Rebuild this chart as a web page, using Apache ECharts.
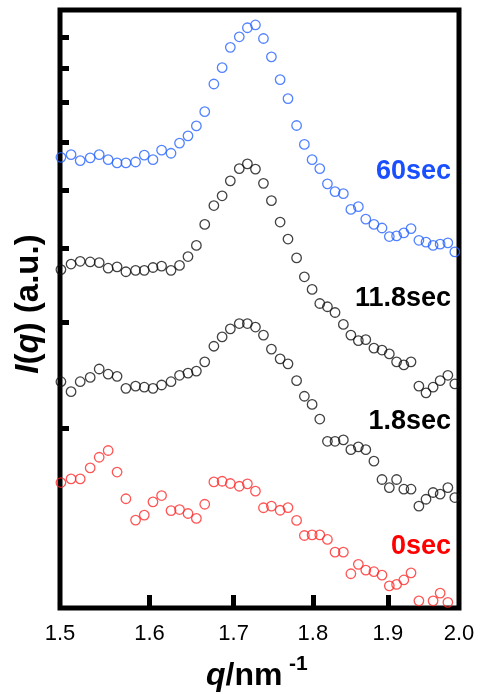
<!DOCTYPE html>
<html>
<head>
<meta charset="utf-8">
<script src="https://cdn.jsdelivr.net/npm/echarts@6/dist/echarts.min.js"></script>
<style>
html,body{margin:0;padding:0;background:#fff;}
#c{width:480px;height:694px;}
</style>
</head>
<body>
<div id="c"></div>
<script>
// q grid (nm^-1)
const q = [1.501,1.512,1.522,1.533,1.543,1.553,1.563,1.573,1.584,1.594,
  1.604,1.614,1.625,1.635,1.645,1.655,1.665,1.676,1.686,1.696,
  1.707,1.717,1.727,1.737,1.747,1.758,1.768,1.779,1.789,1.799,
  1.809,1.819,1.829,1.840,1.850,1.860,1.870,1.881,1.892,1.902,
  1.912,1.922,1.932,1.943,1.953,1.963,1.973,1.984,1.994];

// I(q), a.u.
const s60sec = [5.67,5.73,5.60,5.66,5.73,5.62,5.55,5.55,5.57,5.72,
  5.62,5.83,5.76,5.99,6.16,6.40,6.76,7.52,8.01,8.66,
  9.02,9.34,9.44,8.96,8.35,7.65,7.11,6.41,5.96,5.62,
  5.43,5.12,4.97,4.93,4.64,4.69,4.47,4.38,4.32,4.18,
  4.19,4.24,4.31,4.12,4.09,4.04,4.06,4.08,3.94];

const s11_8sec = [3.68,3.76,3.80,3.79,3.78,3.70,3.72,3.65,3.67,3.67,
  3.71,3.73,3.67,3.74,3.87,4.04,4.38,4.71,4.89,5.18,
  5.43,5.53,5.42,5.13,4.80,4.42,4.14,3.85,3.58,3.41,
  3.23,3.19,3.12,2.98,2.86,2.80,2.81,2.72,2.70,2.66,
  2.58,2.55,2.58,2.35,2.29,2.34,2.40,2.45,2.37];

const s1_8sec = [2.39,2.30,2.39,2.43,2.51,2.46,2.44,2.33,2.35,2.34,
  2.33,2.36,2.39,2.45,2.47,2.49,2.58,2.74,2.84,2.93,
  2.99,2.99,2.95,2.86,2.71,2.61,2.56,2.40,2.26,2.19,
  2.07,1.90,1.90,1.91,1.84,1.86,1.84,1.76,1.64,1.59,
  1.64,1.58,1.58,1.48,1.52,1.56,1.55,1.59,1.53];

const s0sec = [1.621,1.644,1.644,1.715,1.787,1.834,1.688,1.523,1.403,1.430,
  1.505,1.542,1.455,1.461,1.439,1.412,1.491,1.625,1.629,1.615,
  1.598,1.613,1.568,1.471,1.480,1.457,1.472,1.401,1.322,1.325,
  1.325,1.302,1.240,1.240,1.141,1.183,1.157,1.150,1.135,1.089,
  1.095,1.114,1.145,1.028,null,1.028,1.059,1.022,null];

const seriesNames = ['60sec','11.8sec','1.8sec','0sec'];
const xTickLabels = [1.5,1.6,1.7,1.8,1.9,2.0];
const xInnerTicks = [1.6,1.7,1.8,1.9];
const yTicks = [2,3,4,5,6,7,8,9];

function pairs(arr){
  const out = [];
  for (let i = 0; i < q.length; i++) if (arr[i] != null) out.push([q[i], arr[i]]);
  return out;
}

const ptColors = ['#2563ff','#111111','#111111','#ff2b2b'];
const lblColors = ['#1a4fff','#000000','#000000','#ff0000'];
const allData = [s60sec, s11_8sec, s1_8sec, s0sec];
const FONT = '"Liberation Sans", Arial, sans-serif';

const chart = echarts.init(document.getElementById('c'), null, {renderer:'canvas'});
chart.setOption({
  animation: false,
  backgroundColor: '#fff',
  grid: {left: 60, right: 21, top: 10, bottom: 86, show: true, borderColor: '#000', borderWidth: 5, backgroundColor: 'transparent'},
  xAxis: {
    type: 'log', logBase: 10, min: 1.5, max: 2.0,
    axisLine: {show: false},
    splitLine: {show: false},
    minorTick: {show: false},
    axisTick: {show: true, inside: true, length: 13, lineStyle: {color: '#000', width: 5}, customValues: xInnerTicks},
    axisLabel: {show: true, customValues: xTickLabels, formatter: v => Number(v).toFixed(1),
      fontSize: 22, color: '#000', margin: 15, fontFamily: FONT}
  },
  yAxis: {
    type: 'log', logBase: 10, min: 1, max: 10,
    axisLine: {show: false},
    splitLine: {show: false},
    minorTick: {show: false},
    axisTick: {show: true, inside: true, length: 9, lineStyle: {color: '#000', width: 5}, customValues: yTicks},
    axisLabel: {show: false}
  },
  series: allData.map((d, k) => ({
    name: seriesNames[k],
    type: 'scatter',
    symbol: 'circle',
    symbolSize: 9.5,
    data: pairs(d),
    itemStyle: {color: 'rgba(0,0,0,0)', borderColor: ptColors[k], borderWidth: 1.3}
  })),
  graphic: [
    {type:'text', x:451, y:172, style:{text:seriesNames[0], fill:lblColors[0], font:'bold 27px '+FONT, align:'right', verticalAlign:'middle'}},
    {type:'text', x:451, y:299, style:{text:seriesNames[1], fill:lblColors[1], font:'bold 27px '+FONT, align:'right', verticalAlign:'middle'}},
    {type:'text', x:451, y:422, style:{text:seriesNames[2], fill:lblColors[2], font:'bold 27px '+FONT, align:'right', verticalAlign:'middle'}},
    {type:'text', x:451, y:547, style:{text:seriesNames[3], fill:lblColors[3], font:'bold 27px '+FONT, align:'right', verticalAlign:'middle'}},
    {type:'text', x:206, y:676, style:{
      text:'{i|q}{n|/nm}', align:'left', verticalAlign:'middle', fill:'#000',
      rich:{i:{font:'italic bold 32px '+FONT, fill:'#000'}, n:{font:'bold 32px '+FONT, fill:'#000'}}}},
    {type:'text', x:289, y:664, style:{text:'-1', fill:'#000', font:'bold 21px '+FONT, align:'left', verticalAlign:'middle'}},
    {type:'text', x:29, y:304, rotation: Math.PI/2, style:{
      text:'{i|I}{n|(}{i|q}{n|) (a.u.)}', align:'center', verticalAlign:'middle', fill:'#000',
      rich:{i:{font:'italic bold 33px '+FONT, fill:'#000'}, n:{font:'bold 33px '+FONT, fill:'#000'}}}}
  ]
});
</script>
</body>
</html>
